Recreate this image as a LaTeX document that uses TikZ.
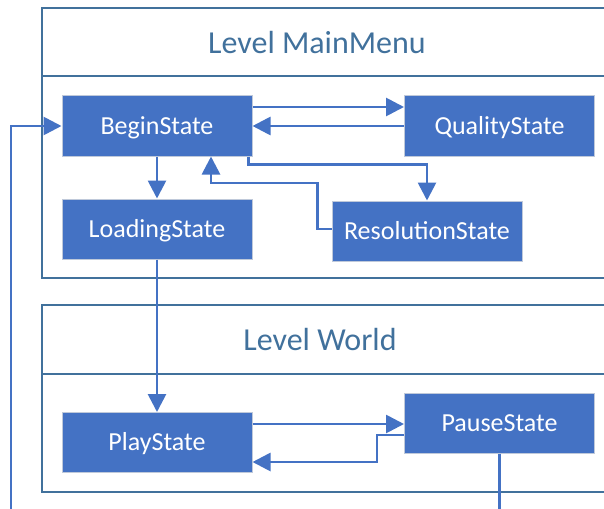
\documentclass[tikz,border=0pt]{standalone}
\usepackage{fontspec}
\setmainfont{Carlito}
\usetikzlibrary{arrows.meta}
\definecolor{stateblue}{HTML}{4472C4}
\definecolor{levelblue}{HTML}{41719C}
\definecolor{stateedge}{HTML}{BFC9DA}

\begin{document}
\begin{tikzpicture}[x=1pt,y=-1pt,
    statebox/.style={draw=stateedge,line width=1pt,fill=stateblue,text=white,minimum width=190pt,minimum height=60pt,inner sep=0pt,text height=16.5pt,text depth=0pt,font=\fontsize{26}{30}\selectfont},
    link/.style={draw=stateblue,line width=2.75pt,-{Triangle[length=18pt,width=18pt]}},
    levelbox/.style={draw=levelblue,line width=2pt},
    leveltitle/.style={text=levelblue,font=\fontsize{32}{38}\selectfont}]
        \useasboundingbox (0,0) rectangle (604,508);
        \clip (0,0) rectangle (604,508);

        \draw[levelbox] (42,8) rectangle (650,278);
        \draw[levelbox] (42,76) -- (650,76);
        \node[leveltitle] (mainmenu) at (317,43) {Level MainMenu};

        \draw[levelbox] (42,305) rectangle (650,492);
        \draw[levelbox] (42,374) -- (650,374);
        \node[leveltitle] (world) at (320,339) {Level World};

        \node[statebox] (begin) at (157,126) {BeginState};
        \node[statebox] (quality) at (499.5,126) {QualityState};
        \node[statebox] (loading) at (157,229) {LoadingState};
        \node[statebox] (resolution) at (427,231) {ResolutionState};
        \node[statebox] (play) at (157,442.5) {PlayState};
        \node[statebox] (pause) at (499.5,423) {PauseState};
        \coordinate (back) at (11,530);

        \draw[link] ([yshift=19pt]begin.east) -- ([yshift=19pt]begin.east -| quality.west);
        \draw[link] (quality.west) -- (begin.east);
        \draw[link] ([xshift=-4pt]begin.south east) -- ++(0,8) -| (resolution.north);
        \draw[link] ([yshift=2pt]resolution.west) -- ++(-14,0) -- ++(0,-46) -| ([xshift=54pt]begin.south);
        \draw[link] (begin.south) -- (loading.north);
        \draw[link] (loading.south) -- (play.north);
        \draw[link] ([yshift=18.5pt]play.east) -- ([yshift=18.5pt]play.east -| pause.west);
        \draw[link] ([yshift=-12pt]pause.west) -- ++(-27,0) |- ([yshift=-19.5pt]play.east);
        \draw[link] (pause.south) |- (back) |- (begin.west);
    \end{tikzpicture}
\end{document}
